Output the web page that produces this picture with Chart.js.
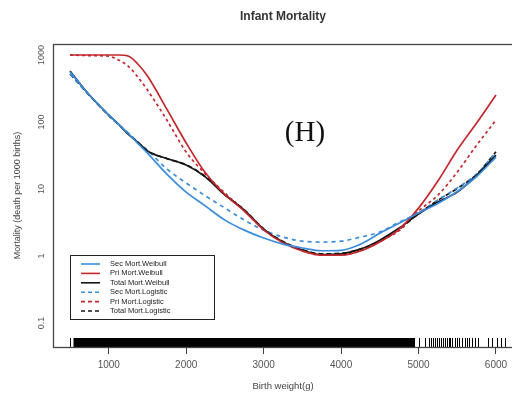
<!DOCTYPE html>
<html>
<head>
<meta charset="utf-8">
<script src="https://cdn.jsdelivr.net/npm/chart.js@4.4.1/dist/chart.umd.min.js"></script>
<style>
  html, body { margin: 0; padding: 0; background: #fff; overflow: hidden; }
  canvas { display: block; }
</style>
</head>
<body>
<canvas id="myChart" width="514" height="396"></canvas>
<script>
// birth weight grid (g) and mortality per 1000 births
const weights = [500, 750, 1000, 1125, 1250, 1375, 1500, 1750, 2000, 2250, 2500, 2750, 3000,
  3250, 3500, 3750, 4000, 4250, 4500, 4750, 5000, 5250, 5500, 5750, 6000]

const secWeibull = [560, 253, 127, 93, 68, 48, 34.4, 16.7, 9.0, 5.57, 3.44, 2.44, 1.86,
  1.51, 1.32, 1.2, 1.22, 1.5, 2.2, 3.1, 4.4, 6.1, 9.2, 15.4, 30]
const priWeibull = [1000, 1000, 1000, 1000, 966, 734, 486, 156, 48.7, 17.3, 8.3, 4.7, 2.46,
  1.58, 1.19, 1.03, 1.03, 1.19, 1.62, 2.53, 5.2, 13.2, 38.2, 96.6, 253]
const totWeibull = [577, 253, 127, 93, 66, 50, 36.9, 28.5, 22.8, 15.1, 8.1, 4.86, 2.53,
  1.62, 1.23, 1.05, 1.08, 1.27, 1.73, 2.62, 4.24, 6.4, 9.0, 16, 32]
const secLogistic = [520, 250, 127, 92, 69, 50, 38.2, 19.9, 12.3, 7.9, 5.2, 3.44, 2.44,
  1.92, 1.67, 1.62, 1.67, 1.92, 2.28, 3.21, 4.4, 6.86, 10.4, 16.7, 35.6]
const priLogistic = [1000, 980, 960, 842, 685, 470, 300, 107, 35.6, 16.7, 8.7, 4.8, 2.5,
  1.6, 1.2, 1.03, 1.04, 1.2, 1.68, 2.4, 4.7, 8.1, 17.9, 45, 107]
const totLogistic = [520, 250, 125, 92, 68, 50, 37, 28.5, 23, 15.3, 8.3, 4.9, 2.55,
  1.65, 1.25, 1.08, 1.1, 1.27, 1.65, 2.5, 4.3, 6.8, 10.2, 16.5, 36]

const xTicks = [1000, 2000, 3000, 4000, 5000, 6000]
const yTicks = [0.1, 1, 10, 100, 1000]

// rug of observed birth weights: solid band plus the sparse tail
const rugBand = [545, 4945]
const rugTicks = [500, 4940, 5004, 5081, 5133, 5159, 5185, 5211, 5237, 5263, 5288, 5314,
  5340, 5366, 5392, 5405, 5430, 5469, 5495, 5521, 5560, 5598, 5624, 5650, 5689, 5727,
  5766, 5895, 5947, 6011, 6063, 6115]

const BLUE = '#3a8ddd'
const RED = '#c2282e'
const BLACK = '#161616'

const toPts = arr => weights.map((w, i) => ({x: w, y: arr[i]}))

const series = [
  {label: 'Sec Mort.Weibull', data: secWeibull, color: BLUE, dash: []},
  {label: 'Pri Mort.Weibull', data: priWeibull, color: RED, dash: []},
  {label: 'Total Mort.Weibull', data: totWeibull, color: BLACK, dash: []},
  {label: 'Sec Mort.Logistic', data: secLogistic, color: BLUE, dash: [4, 4]},
  {label: 'Pri Mort.Logistic', data: priLogistic, color: RED, dash: [3, 3]},
  {label: 'Total Mort.Logistic', data: totLogistic, color: BLACK, dash: [5, 3]}
]

const decor = {
  id: 'decor',
  beforeDatasetsDraw(chart) {
    const {ctx, chartArea: a, scales: {x}} = chart
    ctx.save()
    ctx.fillStyle = '#000'
    const x0 = x.getPixelForValue(rugBand[0]), x1 = x.getPixelForValue(rugBand[1])
    ctx.fillRect(x0, a.bottom - 9, x1 - x0, 9)
    ctx.strokeStyle = '#000'
    ctx.lineWidth = 1
    rugTicks.forEach(v => {
      const px = Math.round(x.getPixelForValue(v)) + 0.5
      ctx.beginPath()
      ctx.moveTo(px, a.bottom - 9)
      ctx.lineTo(px, a.bottom)
      ctx.stroke()
    })
    ctx.restore()
  },
  afterDraw(chart) {
    const {ctx, chartArea: a, scales: {y}} = chart
    ctx.save()
    // plot box
    ctx.strokeStyle = '#444'
    ctx.lineWidth = 1.3
    ctx.strokeRect(a.left + 0.5, a.top + 0.5, a.right - a.left, a.bottom - a.top)

    // y tick labels, parallel to the axis
    ctx.fillStyle = '#555'
    ctx.font = '9px "Liberation Sans", Arial, sans-serif'
    ctx.textAlign = 'center'
    ctx.textBaseline = 'middle'
    yTicks.forEach(v => {
      ctx.save()
      ctx.translate(42, y.getPixelForValue(v))
      ctx.rotate(-Math.PI / 2)
      ctx.fillText(String(v), 0, 0)
      ctx.restore()
    })

    // axis titles
    ctx.fillStyle = '#444'
    ctx.font = '9px "Liberation Sans", Arial, sans-serif'
    ctx.save()
    ctx.translate(18, (a.top + a.bottom) / 2)
    ctx.rotate(-Math.PI / 2)
    ctx.fillText('Mortality (death per 1000 births)', 0, 0)
    ctx.restore()
    ctx.font = '9.5px "Liberation Sans", Arial, sans-serif'
    ctx.fillText('Birth weight(g)', (a.left + a.right) / 2, 386)

    // main title
    ctx.fillStyle = '#333'
    ctx.font = 'bold 12px "Liberation Sans", Arial, sans-serif'
    ctx.fillText('Infant Mortality', (a.left + a.right) / 2, 17)

    // panel tag
    ctx.fillStyle = '#111'
    ctx.font = '29px "Liberation Serif", "Times New Roman", serif'
    ctx.fillText('(H)', 305, 133)

    // legend
    ctx.fillStyle = '#fff'
    ctx.fillRect(70, 255, 144, 64)
    ctx.strokeStyle = '#222'
    ctx.lineWidth = 1
    ctx.strokeRect(70.5, 255.5, 144, 64)
    ctx.textAlign = 'left'
    ctx.font = '7.5px "Liberation Sans Narrow", "Liberation Sans", Arial, sans-serif'
    series.forEach((s, i) => {
      const ly = 264 + i * 9.4
      ctx.strokeStyle = s.color
      ctx.lineWidth = 1.6
      ctx.setLineDash(s.dash.length ? [4, 3] : [])
      ctx.beginPath()
      ctx.moveTo(81, ly)
      ctx.lineTo(100, ly)
      ctx.stroke()
      ctx.setLineDash([])
      ctx.fillStyle = '#222'
      ctx.fillText(s.label, 110, ly)
    })
    ctx.restore()
  }
}

const ctx = document.getElementById('myChart').getContext('2d')

let myChart = new Chart(ctx, {
  type: 'line',
  data: {
    datasets: series.map(s => ({
      label: s.label,
      data: toPts(s.data),
      borderColor: s.color,
      borderDash: s.dash,
      borderWidth: 1.7,
      pointRadius: 0,
      fill: false,
      cubicInterpolationMode: 'monotone'
    }))
  },
  options: {
    responsive: false,
    animation: false,
    layout: {padding: {top: 44, right: 1, left: 0, bottom: 0}},
    plugins: {legend: {display: false}, tooltip: {enabled: false}, title: {display: false}},
    scales: {
      x: {
        type: 'linear',
        min: 280,
        max: 6220,
        afterBuildTicks: sc => { sc.ticks = xTicks.map(v => ({value: v})) },
        afterFit: sc => { sc.height = 49 },
        grid: {display: true, drawOnChartArea: false, drawTicks: true, tickLength: 7, color: '#444'},
        border: {display: false},
        ticks: {
          color: '#555',
          padding: 5,
          maxRotation: 0,
          font: {size: 10, family: '"Liberation Sans", Arial, sans-serif'},
          callback: v => String(v)
        }
      },
      y: {
        type: 'logarithmic',
        min: 0.044,
        max: 1460,
        afterBuildTicks: sc => { sc.ticks = yTicks.map(v => ({value: v})) },
        afterFit: sc => { sc.width = 53 },
        grid: {display: false},
        border: {display: false},
        ticks: {display: false}
      }
    }
  },
  plugins: [decor]
})
</script>
</body>
</html>
